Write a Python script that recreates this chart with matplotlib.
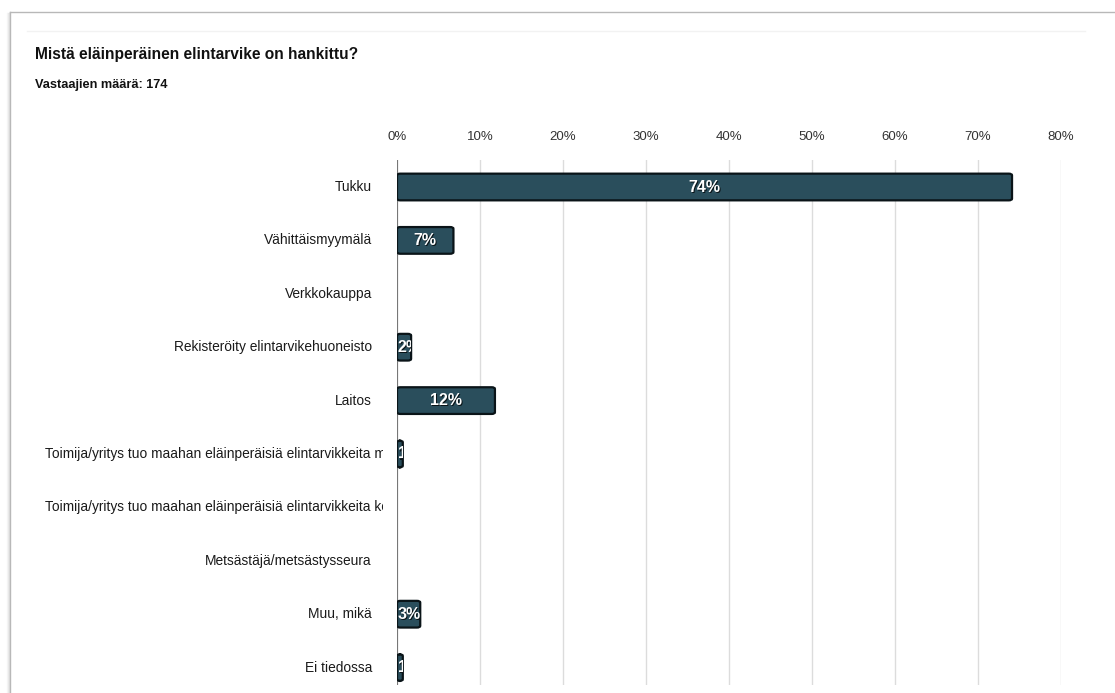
import matplotlib
matplotlib.use("Agg")
import matplotlib.pyplot as plt
from matplotlib.patches import Rectangle, FancyBboxPatch
from matplotlib.lines import Line2D
import matplotlib.transforms as mtransforms

plt.rcParams['font.family'] = ['Liberation Sans', 'DejaVu Sans']

title = "Mistä eläinperäinen elintarvike on hankittu?"
subtitle = "Vastaajien määrä: 174"
categories = [
    "Tukku",
    "Vähittäismyymälä",
    "Verkkokauppa",
    "Rekisteröity elintarvikehuoneisto",
    "Laitos",
    "Toimija/yritys tuo maahan eläinperäisiä elintarvikkeita ma",
    "Toimija/yritys tuo maahan eläinperäisiä elintarvikkeita ko",
    "Metsästäjä/metsästysseura",
    "Muu, mikä",
    "Ei tiedossa",
]
values = [74.1, 6.8, 0, 1.7, 11.8, 0.7, 0, 0, 2.8, 0.7]
xticks = [0, 10, 20, 30, 40, 50, 60, 70, 80]

W, H = 1115, 693
fig = plt.figure(figsize=(W / 100, H / 100), dpi=100)
fig.patch.set_facecolor("white")

def fx(px):
    return px / W

def fy(py):
    return 1 - py / H

# card frame with soft shadow
for i, a in enumerate([0.10, 0.06, 0.03]):
    fig.add_artist(Line2D([fx(9 - i), fx(9 - i)], [fy(13), 0], color="black", alpha=a, lw=1))
fig.add_artist(Line2D([fx(10), 1], [fy(12), fy(12)], color="#b8b8b8", lw=1))
fig.add_artist(Line2D([fx(10), fx(10)], [fy(12), 0], color="#b8b8b8", lw=1))
fig.add_artist(Line2D([fx(27), fx(1085)], [fy(31), fy(31)], color="#f2f2f2", lw=1))

fig.text(fx(35), fy(55), title, fontsize=11.2, fontweight="bold", color="#111111", va="center")
fig.text(fx(35), fy(85), subtitle, fontsize=9.2, fontweight="bold", color="#111111", va="center")

# axes
x0, x1 = 397, 1061
ax = fig.add_axes([fx(x0), fy(685), fx(x1 - x0), fy(160) - fy(685)])
step = 53.4
ax.set_ylim((685 - 187) / step, -(187 - 160) / step)
ax.set_xlim(0, 80)

for s in ax.spines.values():
    s.set_visible(False)
ax.set_yticks([])
ax.xaxis.tick_top()
ax.set_xticks(xticks)
ax.set_xticklabels([f"{t}%" for t in xticks], fontsize=9.5, color="#333333")
ax.tick_params(axis="x", length=0, pad=12)
ax.grid(axis="x", color="#dcdcdc", lw=1)
ax.set_axisbelow(True)
ax.axvline(0, color="#777777", lw=1.5, zorder=3)

bar_h = 0.5
for i, v in enumerate(values):
    if v <= 0:
        continue
    bar = FancyBboxPatch((0, i - bar_h / 2), v, bar_h,
                         boxstyle="round,pad=0,rounding_size=0.4",
                         mutation_aspect=0.08,
                         facecolor="#2a4e5c", edgecolor="#0a1418", lw=1.6, zorder=4)
    ax.add_patch(bar)
    clip = Rectangle((0, i - bar_h / 2), v, bar_h, transform=ax.transData,
                     visible=False)
    ax.add_patch(clip)
    lab = f"{round(v)}%"
    if v >= 5:
        xpos, ha = v / 2, "center"
    else:
        xpos, ha = 0, "left"
    base = ax.transData if ha == "center" else mtransforms.offset_copy(
        ax.transData, fig=fig, x=0.6, y=0, units="points")
    shadow = mtransforms.offset_copy(base, fig=fig, x=0.8, y=-0.8, units="points")
    ts = ax.text(xpos, i, lab, ha=ha, va="center", transform=shadow,
                 fontsize=11.5, fontweight="bold", color="#0a1418", zorder=5,
                 clip_on=True)
    ts.set_clip_path(clip)
    t = ax.text(xpos, i, lab, ha=ha, va="center", transform=base,
                fontsize=11.5, fontweight="bold", color="white", zorder=6,
                clip_on=True)
    t.set_clip_path(clip)

# category labels (clipped like in the original)
lclip = Rectangle((0, 0), fx(383), 1, transform=fig.transFigure, visible=False)
fig.add_artist(lclip)
for i, c in enumerate(categories):
    ypix = 187 + step * i
    if len(c) > 40:
        t = fig.text(fx(45), fy(ypix), c, ha="left", va="center", fontsize=9.9, color="#1a1a1a")
    else:
        t = fig.text(fx(372), fy(ypix), c, ha="right", va="center", fontsize=9.9, color="#1a1a1a")
    t.set_clip_path(lclip)

fig.savefig("out.png", dpi=100, facecolor="white")
